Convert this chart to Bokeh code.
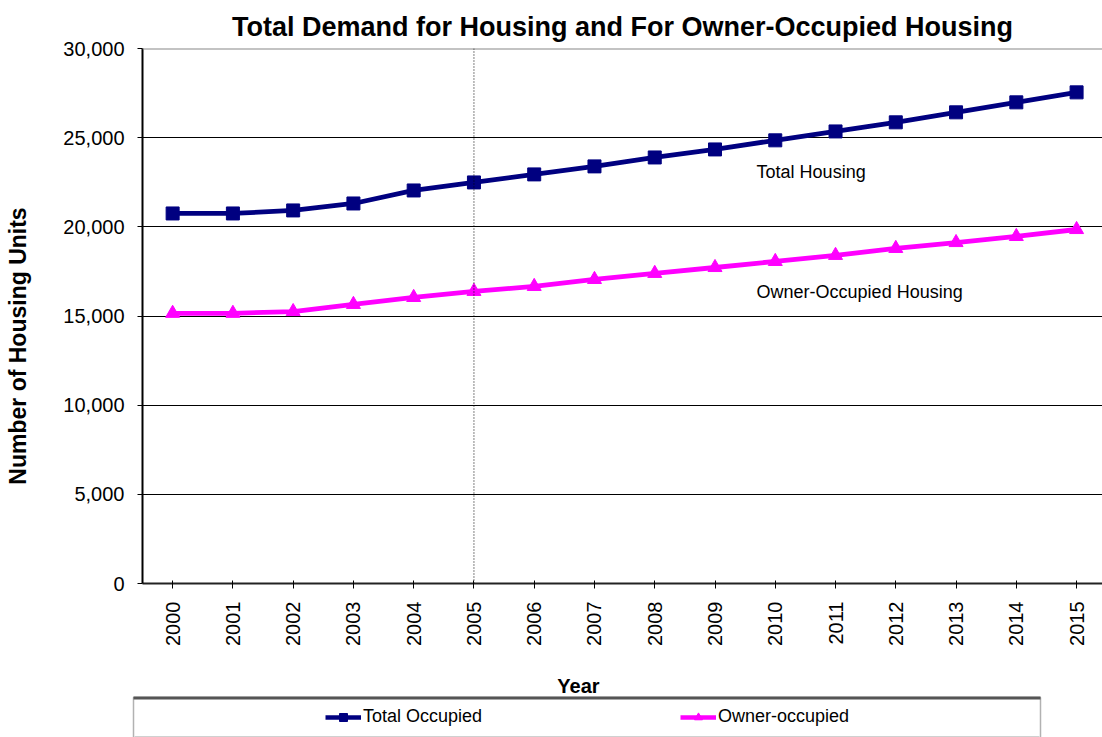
import math
from bokeh.plotting import figure
from bokeh.layouts import column, row
from bokeh.models import (Range1d, FixedTicker, Span, Label, Legend, LegendItem,
                          NumeralTickFormatter, ColumnDataSource, BoxAnnotation)
from bokeh.embed import file_html
from bokeh.resources import INLINE

years = list(range(2000, 2016))
total_occupied = [20750, 20750, 20920, 21310, 22040, 22490, 22940, 23390,
                  23890, 24340, 24850, 25350, 25860, 26420, 26980, 27540]
owner_occupied = [15150, 15150, 15250, 15650, 16040, 16380, 16660, 17050,
                  17390, 17720, 18060, 18400, 18790, 19120, 19460, 19850]
y_ticks = [0, 5000, 10000, 15000, 20000, 25000, 30000]
series_names = ["Total Occupied", "Owner-occupied"]
series_colors = ["#000080", "#FF00FF"]

FONT = "Liberation Sans"
MAIN_H = 660


def blank(width, height):
    f = figure(width=width, height=height, output_backend="svg", toolbar_location=None,
               x_range=Range1d(0, width), y_range=Range1d(0, height),
               min_border_left=0, min_border_right=0, min_border_top=0,
               min_border_bottom=0, x_axis_type=None, y_axis_type=None)
    f.grid.visible = False
    f.outline_line_color = None
    f.background_fill_color = "white"
    f.border_fill_color = "white"
    return f


# ---- main plot ----
p = figure(width=1062, height=MAIN_H, output_backend="svg", toolbar_location=None,
           x_range=Range1d(1999.5, 2015.43), y_range=Range1d(0, 30000),
           min_border_left=102, min_border_right=0, min_border_top=48,
           min_border_bottom=MAIN_H - 583)
p.outline_line_color = None
p.background_fill_color = "white"
p.border_fill_color = "white"

p.title.text = "Total Demand for Housing and For Owner-Occupied Housing"
p.title.align = "center"
p.title.text_font = FONT
p.title.text_font_size = "27px"
p.title.text_font_style = "bold"
p.title.text_color = "black"
p.title.standoff = 14

p.xaxis.ticker = FixedTicker(ticks=years)
p.xaxis.major_label_orientation = math.pi / 2
p.xaxis.major_label_text_font = FONT
p.xaxis.major_label_text_font_size = "20px"
p.xaxis.major_label_text_color = "black"
p.xaxis.major_label_standoff = 13
p.xaxis.major_tick_in = 3
p.xaxis.major_tick_out = 5
p.xaxis.minor_tick_line_color = None
p.xaxis.axis_line_color = "#222222"
p.xaxis.axis_line_width = 2
p.xaxis.major_tick_line_color = "black"

p.yaxis.ticker = FixedTicker(ticks=y_ticks)
p.yaxis.formatter = NumeralTickFormatter(format="0,0")
p.yaxis.major_label_text_font = FONT
p.yaxis.major_label_text_font_size = "20px"
p.yaxis.major_label_text_color = "black"
p.yaxis.major_label_standoff = 13
p.yaxis.major_tick_in = 0
p.yaxis.major_tick_out = 5
p.yaxis.minor_tick_line_color = None
p.yaxis.axis_line_color = "black"
p.yaxis.axis_line_width = 2
p.yaxis.major_tick_line_color = "black"

p.xgrid.grid_line_color = None
p.ygrid.ticker = FixedTicker(ticks=y_ticks[1:-1])
p.ygrid.grid_line_color = "black"
p.ygrid.grid_line_width = 1
p.add_layout(Span(location=y_ticks[-1], dimension="width", line_color="#888888",
                  line_width=2))

# dotted vertical marker at 2005
p.add_layout(Span(location=2005, dimension="height", line_color="black",
                  line_dash="1 2", line_width=1))

# series
p.line(years, total_occupied, line_color=series_colors[0], line_width=4.8)
p.scatter(years, total_occupied, marker="square", size=13,
          fill_color=series_colors[0], line_color=series_colors[0])
p.line(years, owner_occupied, line_color=series_colors[1], line_width=4.8)
p.scatter(years, owner_occupied, marker="triangle", size=14,
          fill_color=series_colors[1], line_color=series_colors[1])

p.add_layout(Label(x=2009.69, y=23050, text="Total  Housing", text_font=FONT,
                   text_font_size="18px", text_color="black",
                   text_baseline="middle"))
p.add_layout(Label(x=2009.69, y=16320, text="Owner-Occupied Housing", text_font=FONT,
                   text_font_size="18px", text_color="black",
                   text_baseline="middle"))

# ---- left strip: y axis title ----
ylab = blank(40, MAIN_H)
ylab.add_layout(Label(x=17, y=MAIN_H - 367, text="Number of Housing Units",
                      text_font=FONT, text_font_size="23px", text_font_style="bold",
                      text_color="black", angle=math.pi / 2, text_align="center",
                      text_baseline="middle"))

# ---- bottom strip: x axis title + legend ----
BOT_H = 737 - MAIN_H
bot = blank(1102, BOT_H)
bot.add_layout(Label(x=578, y=BOT_H - (685 - MAIN_H), text="Year", text_font=FONT,
                     text_font_size="20px", text_font_style="bold", text_color="black",
                     text_align="center", text_baseline="middle"))
bot.add_layout(BoxAnnotation(left=133, right=1040, bottom=-5, top=40,
                             fill_color="white", fill_alpha=1,
                             line_color="black", line_width=1.5))
bot.add_layout(BoxAnnotation(left=133, right=1040, bottom=38, top=41,
                             fill_color="#555555", fill_alpha=1, line_alpha=0))
bot.add_layout(BoxAnnotation(left=134, right=1039, bottom=0, top=1.5,
                             fill_color="#d0d0d0", fill_alpha=1, line_alpha=0))

src1 = ColumnDataSource(data=dict(x=years[:1], y=total_occupied[:1]))
src2 = ColumnDataSource(data=dict(x=years[:1], y=owner_occupied[:1]))
pl1 = bot.line("x", "y", source=src1, line_color=series_colors[0], line_width=4.5)
ps1 = bot.scatter("x", "y", source=src1, marker="square", size=11,
                  fill_color=series_colors[0], line_color=series_colors[0])
pl2 = bot.line("x", "y", source=src2, line_color=series_colors[1], line_width=4.5)
ps2 = bot.scatter("x", "y", source=src2, marker="triangle", size=12,
                  fill_color=series_colors[1], line_color=series_colors[1])
legend = Legend(items=[LegendItem(label=series_names[0], renderers=[pl1, ps1]),
                       LegendItem(label=series_names[1], renderers=[pl2, ps2])],
                orientation="horizontal", location=(325, 10),
                padding=0, margin=0, spacing=0, glyph_width=36, glyph_height=20,
                label_standoff=2, label_width=317,
                label_text_font=FONT, label_text_font_size="18px",
                label_text_color="black", border_line_color=None,
                background_fill_alpha=0)
bot.add_layout(legend)

layout = column(row(ylab, p), bot)
open("out.html", "w").write(file_html(layout, INLINE))
